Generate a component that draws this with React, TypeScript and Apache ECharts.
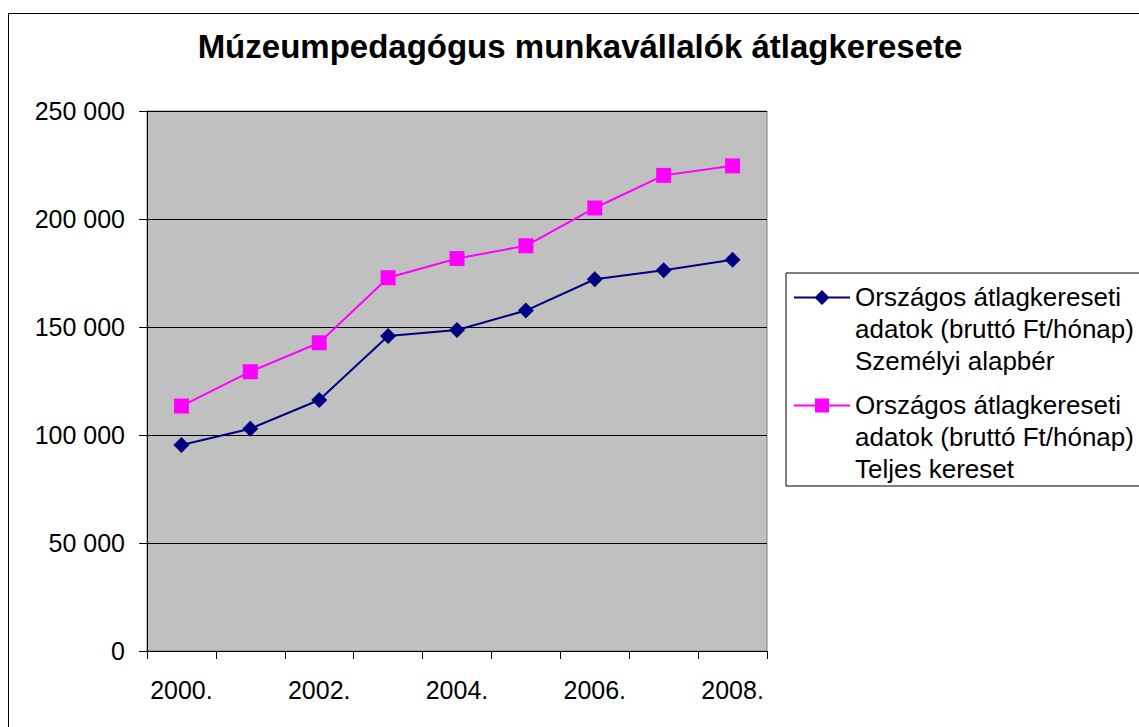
import React, { useEffect, useRef } from "react";
import * as echarts from "echarts";

const titleText = "Múzeumpedagógus munkavállalók átlagkeresete";
const categories = ["2000.", "2001.", "2002.", "2003.", "2004.", "2005.", "2006.", "2007.", "2008."];
const alapber = [95400, 102900, 116200, 145800, 148600, 157600, 172100, 176300, 181100];
const teljesKereset = [113400, 129300, 142700, 172800, 181700, 187600, 205100, 220200, 224600];
const seriesNames = [
  "Országos átlagkereseti\nadatok (bruttó Ft/hónap)\nSzemélyi alapbér",
  "Országos átlagkereseti\nadatok (bruttó Ft/hónap)\nTeljes kereset",
];
const yMin = 0;
const yMax = 250000;
const yStep = 50000;

const FONT = '"Liberation Sans", Arial, sans-serif';

// legend icons: line + marker aligned with first text line (box 56 x 96)
const corners = "M0 0 L0.01 0 L0 0.01 Z M56 96 L55.99 96 L56 95.99 Z";
const lineRect = "M0 15.5 L56 15.5 L56 17.5 L0 17.5 Z";
const diamondIcon = "path://" + corners + " " + lineRect + " M28 9 L35.5 16.5 L28 24 L20.5 16.5 Z";
const squareIcon = "path://" + corners + " " + lineRect + " M21 9.5 L35 9.5 L35 23.5 L21 23.5 Z";

function fmt(v: number): string {
  return String(v).replace(/\B(?=(\d{3})+(?!\d))/g, " ");
}

export default function App() {
  const ref = useRef<HTMLDivElement>(null);
  useEffect(() => {
    if (!ref.current) return;
    const chart = echarts.init(ref.current, null, { renderer: "svg" });
    chart.setOption({
      animation: false,
      backgroundColor: "#ffffff",
      textStyle: { fontFamily: FONT, color: "#000" },
      graphic: [
        {
          type: "rect",
          z: -10,
          shape: { x: 8.5, y: 13.5, width: 1300, height: 900 },
          style: { fill: "none", stroke: "#000", lineWidth: 1 },
        },
        {
          type: "text",
          x: 580,
          y: 46,
          style: {
            text: titleText,
            fontFamily: FONT,
            fontWeight: "bold",
            fontSize: 33,
            fill: "#000",
            align: "center",
            verticalAlign: "middle",
          },
        },
      ],
      grid: {
        left: 147,
        right: 372,
        top: 111,
        bottom: 76,
        show: true,
        backgroundColor: "#C0C0C0",
        borderColor: "#808080",
        borderWidth: 1,
      },
      legend: {
        orient: "vertical",
        left: 786,
        top: 273,
        padding: [8, 30, 1, 8],
        itemWidth: 56,
        itemHeight: 96,
        itemGap: 12,
        borderColor: "#000",
        borderWidth: 1,
        backgroundColor: "#ffffff",
        selectedMode: false,
        itemStyle: { borderWidth: 0 },
        textStyle: { fontFamily: FONT, fontSize: 26, lineHeight: 32, color: "#000" },
        data: [
          { name: seriesNames[0], icon: diamondIcon },
          { name: seriesNames[1], icon: squareIcon },
        ],
      },
      xAxis: {
        type: "category",
        data: categories,
        boundaryGap: true,
        axisLine: { show: true, lineStyle: { color: "#000", width: 1 } },
        axisTick: { show: true, interval: 0, length: 8, lineStyle: { color: "#000" } },
        axisLabel: { interval: 1, fontSize: 25, margin: 26, color: "#000", fontFamily: FONT },
        splitLine: { show: false },
      },
      yAxis: {
        type: "value",
        min: yMin,
        max: yMax,
        interval: yStep,
        axisLine: { show: true, lineStyle: { color: "#000", width: 1 } },
        axisTick: { show: true, length: 8, lineStyle: { color: "#000" } },
        axisLabel: { fontSize: 25, margin: 22, color: "#000", fontFamily: FONT, formatter: (v: number) => fmt(v) },
        splitLine: { show: true, lineStyle: { color: "#000", width: 1 } },
      },
      series: [
        {
          name: seriesNames[0],
          type: "line",
          data: alapber,
          symbol: "diamond",
          symbolSize: 16,
          color: "#000080",
          lineStyle: { color: "#000080", width: 2 },
          itemStyle: { color: "#000080", borderWidth: 0 },
        },
        {
          name: seriesNames[1],
          type: "line",
          data: teljesKereset,
          symbol: "rect",
          symbolSize: 15,
          color: "#FF00FF",
          lineStyle: { color: "#FF00FF", width: 2 },
          itemStyle: { color: "#FF00FF", borderWidth: 0 },
        },
      ],
    });
    return () => chart.dispose();
  }, []);
  return (
    <div
      ref={ref}
      style={{ position: "absolute", left: 0, top: 0, width: 1139, height: 727, background: "#fff" }}
    />
  );
}
